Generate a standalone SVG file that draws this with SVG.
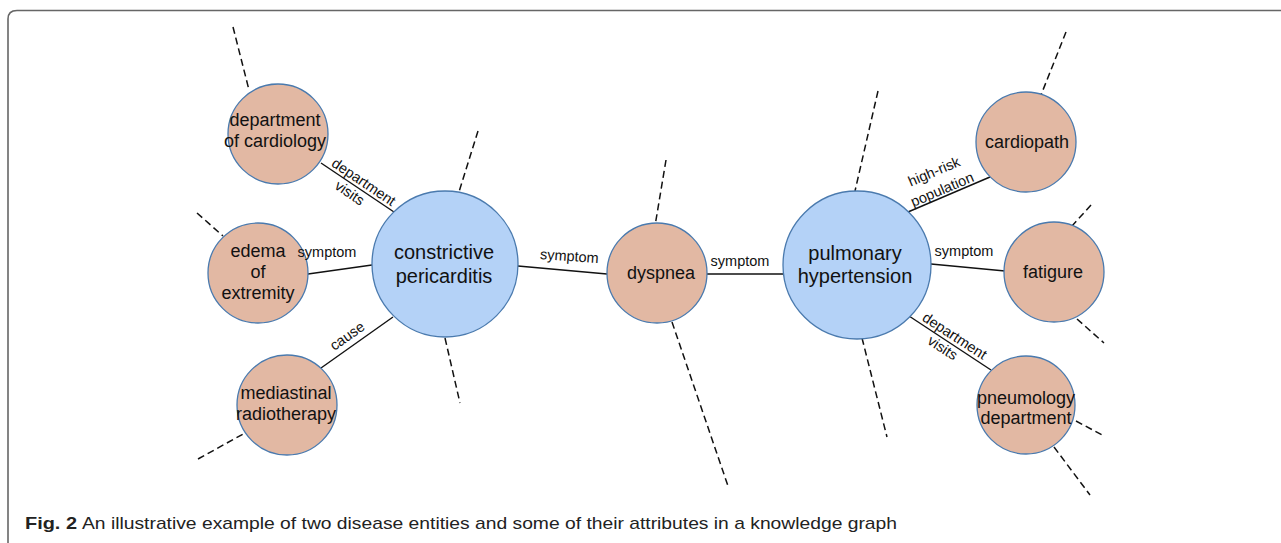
<svg xmlns="http://www.w3.org/2000/svg" width="1281" height="543" viewBox="0 0 1281 543">
<style>
.attr{fill:#E2B8A3;stroke:#4A7AAE;stroke-width:1.3}
.dis{fill:#B4D2F7;stroke:#4A7AAE;stroke-width:1.3}
.nt{font-family:"Liberation Sans",Arial,sans-serif;font-size:18px;fill:#111;text-anchor:middle}
.dt{font-family:"Liberation Sans",Arial,sans-serif;font-size:20px;fill:#111;text-anchor:middle}
.lb{font-family:"Liberation Sans",Arial,sans-serif;font-size:14.5px;fill:#111;text-anchor:middle}
.edge{stroke:#111;stroke-width:1.4;fill:none}
.dash{stroke:#111;stroke-width:1.5;fill:none;stroke-dasharray:7 4}
.cap{font-family:"Liberation Sans",Arial,sans-serif;font-size:17px;fill:#222}
</style>
<rect width="1281" height="543" fill="#fff"/>
<path d="M8,543 L8,19 Q8,10.5 17,10.5 L1281,10.5" fill="none" stroke="#666" stroke-width="1.6"/>
<g id="connectors">
<line class="edge" x1="321" y1="163" x2="394" y2="212"/>
<line class="edge" x1="308" y1="274" x2="372" y2="265"/>
<line class="edge" x1="321" y1="368" x2="393" y2="317"/>
<line class="edge" x1="518" y1="266" x2="607" y2="274"/>
<line class="edge" x1="707" y1="274" x2="783" y2="274"/>
<line class="edge" x1="908" y1="212" x2="990" y2="177"/>
<line class="edge" x1="931" y1="264" x2="1005" y2="271"/>
<line class="edge" x1="909" y1="316" x2="991" y2="370"/>
<line class="dash" x1="233" y1="27" x2="249" y2="90"/>
<line class="dash" x1="197" y1="213" x2="223" y2="236"/>
<line class="dash" x1="198" y1="459" x2="245" y2="433"/>
<line class="dash" x1="478" y1="131" x2="458" y2="195"/>
<line class="dash" x1="445" y1="338" x2="460" y2="403"/>
<line class="dash" x1="666" y1="160" x2="655" y2="226"/>
<line class="dash" x1="672" y1="322" x2="728" y2="486"/>
<line class="dash" x1="878" y1="91" x2="855" y2="191"/>
<line class="dash" x1="862" y1="338" x2="887" y2="437"/>
<line class="dash" x1="1066" y1="32" x2="1041" y2="95"/>
<line class="dash" x1="1091" y1="205" x2="1072" y2="226"/>
<line class="dash" x1="1077" y1="319" x2="1104" y2="343"/>
<line class="dash" x1="1076" y1="421" x2="1104" y2="436"/>
<line class="dash" x1="1054" y1="447" x2="1090" y2="495"/>
</g>
<g id="dept-cardiology">
<circle class="attr" cx="278" cy="134" r="50"/>
<text class="nt" x="275" y="126">department</text>
<text class="nt" x="275" y="147">of cardiology</text>
</g>
<g id="edema">
<circle class="attr" cx="258" cy="273" r="50"/>
<text class="nt" x="258" y="257">edema</text>
<text class="nt" x="258" y="278">of</text>
<text class="nt" x="258" y="299">extremity</text>
</g>
<g id="mediastinal">
<circle class="attr" cx="287" cy="405" r="50"/>
<text class="nt" x="286" y="399">mediastinal</text>
<text class="nt" x="286" y="420">radiotherapy</text>
</g>
<g id="constrictive-pericarditis">
<circle class="dis" cx="445" cy="264" r="73"/>
<text class="dt" x="444" y="259">constrictive</text>
<text class="dt" x="444" y="283">pericarditis</text>
</g>
<g id="dyspnea">
<circle class="attr" cx="657" cy="273" r="50"/>
<text class="nt" x="661" y="279">dyspnea</text>
</g>
<g id="pulmonary-hypertension">
<circle class="dis" cx="857" cy="265" r="74"/>
<text class="dt" x="855" y="260">pulmonary</text>
<text class="dt" x="855" y="283">hypertension</text>
</g>
<g id="cardiopath">
<circle class="attr" cx="1026" cy="142" r="50"/>
<text class="nt" x="1027" y="148">cardiopath</text>
</g>
<g id="fatigure">
<circle class="attr" cx="1054" cy="272" r="50"/>
<text class="nt" x="1053" y="278">fatigure</text>
</g>
<g id="pneumology-department">
<circle class="attr" cx="1026" cy="405" r="49"/>
<text class="nt" x="1026" y="404">pneumology</text>
<text class="nt" x="1026" y="424">department</text>
</g>
<g id="edge-labels">
<text class="lb" transform="translate(361,186) rotate(34)">department</text>
<text class="lb" transform="translate(347,197) rotate(34)">visits</text>
<text class="lb" x="327" y="257">symptom</text>
<text class="lb" transform="translate(350,340) rotate(-35)">cause</text>
<text class="lb" transform="translate(569,261) rotate(4)">symptom</text>
<text class="lb" x="740" y="266">symptom</text>
<text class="lb" transform="translate(936,176) rotate(-23)">high-risk</text>
<text class="lb" transform="translate(944,194) rotate(-23)">population</text>
<text class="lb" x="964" y="256">symptom</text>
<text class="lb" transform="translate(952,340) rotate(33)">department</text>
<text class="lb" transform="translate(940,352) rotate(33)">visits</text>
</g>
<text class="cap" x="25" y="529"><tspan font-weight="bold" textLength="52" lengthAdjust="spacingAndGlyphs">Fig. 2</tspan><tspan x="82" textLength="815" lengthAdjust="spacingAndGlyphs">An illustrative example of two disease entities and some of their attributes in a knowledge graph</tspan></text>
</svg>
